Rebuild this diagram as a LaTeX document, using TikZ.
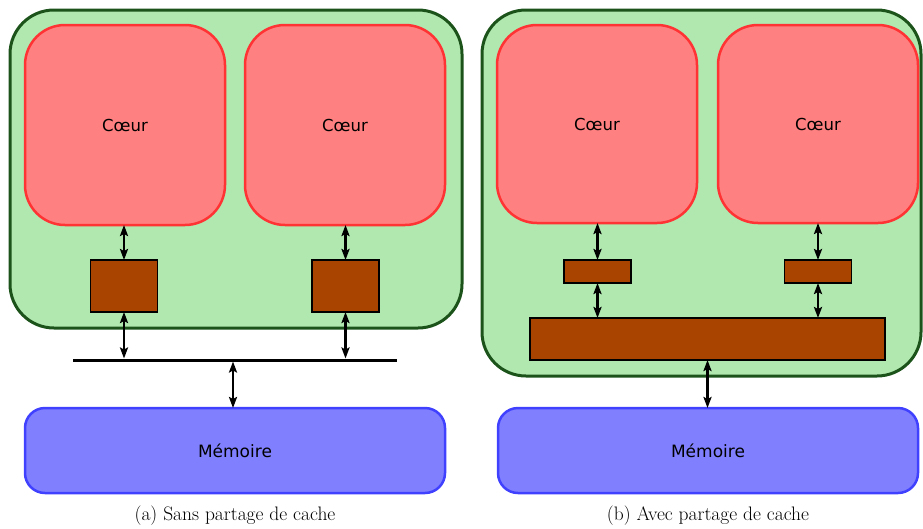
\documentclass[tikz,border=0pt]{standalone}
\usepackage{fontspec}
\newfontfamily\labelfont{DejaVu Sans}
\usetikzlibrary{arrows.meta}
\definecolor{chipfill}{HTML}{B0E8B0}
\definecolor{chipdraw}{HTML}{1B531B}
\definecolor{corefill}{HTML}{FF8080}
\definecolor{coredraw}{HTML}{FF3333}
\definecolor{memfill}{HTML}{8080FF}
\definecolor{memdraw}{HTML}{4040FF}
\definecolor{cachefill}{HTML}{A84400}
\tikzset{
  box/.style={rectangle, inner sep=0pt, outer sep=0pt},
  chip/.style={box, fill=chipfill, draw=chipdraw, line width=3pt, rounded corners=44pt},
  core/.style={box, fill=corefill, draw=coredraw, line width=2.5pt, rounded corners=40pt,
    font=\labelfont\fontsize{16.5}{19}\selectfont},
  mem/.style={box, fill=memfill, draw=memdraw, line width=2.5pt, rounded corners=20pt,
    font=\labelfont\fontsize{17}{20}\selectfont},
  cache/.style={box, fill=cachefill, draw=black, line width=1.5pt},
  link/.style={line width=2.4pt, {Stealth[length=11pt,width=8pt,inset=2pt]}-{Stealth[length=11pt,width=8pt,inset=2pt]}},
  caption/.style={inner sep=0pt, font=\fontsize{19.5}{23}\selectfont}
}
\begin{document}
\begin{tikzpicture}[x=1pt,y=-1pt]
\useasboundingbox (0,0) rectangle (923,528);

% ---------- (a) private caches ----------
\node[chip, minimum width=452pt, minimum height=318pt] (chipA) at (236,169) {};
\node[core, minimum width=200pt, minimum height=200pt] (coreA1) at (125,125) {Cœur};
\node[core, minimum width=200pt, minimum height=200pt] (coreA2) at (345,125) {Cœur};
\node[cache, minimum width=67pt, minimum height=52pt] (cacheA1) at (124,286) {};
\node[cache, minimum width=67pt, minimum height=52pt] (cacheA2) at (345.5,286) {};
\node[box, fill=black, minimum width=324pt, minimum height=3pt] (bus) at (235,360) {};
\node[mem, minimum width=420pt, minimum height=85pt] (memA) at (235,450.5) {Mémoire};

\draw[link] (coreA1.south -| cacheA1) -- (cacheA1.north);
\draw[link] (coreA2.south -| cacheA2) -- (cacheA2.north);
\draw[link] (cacheA1.south) -- (cacheA1.south |- bus.north);
\draw[link] (cacheA2.south) -- (cacheA2.south |- bus.north);
\draw[link] ([xshift=-2pt]bus.south) -- ([xshift=-2pt]bus.south |- memA.north);

\node[caption] (capA) at (235,516) {(a) Sans partage de cache};

% ---------- (b) shared cache ----------
\node[chip, minimum width=439pt, minimum height=366pt] (chipB) at (701.5,193) {};
\node[core, minimum width=200pt, minimum height=198pt] (coreB1) at (597,124) {Cœur};
\node[core, minimum width=200pt, minimum height=198pt] (coreB2) at (818,124) {Cœur};
\node[cache, minimum width=67pt, minimum height=23pt] (cacheB1) at (597.5,271.5) {};
\node[cache, minimum width=67pt, minimum height=23pt] (cacheB2) at (818,271.5) {};
\node[cache, minimum width=355pt, minimum height=42pt] (shared) at (707.5,339) {};
\node[mem, minimum width=420pt, minimum height=85pt] (memB) at (708,450.5) {Mémoire};

\draw[link] (coreB1.south -| cacheB1) -- (cacheB1.north);
\draw[link] (coreB2.south -| cacheB2) -- (cacheB2.north);
\draw[link] (cacheB1.south) -- (cacheB1.south |- shared.north);
\draw[link] (cacheB2.south) -- (cacheB2.south |- shared.north);
\draw[link] (shared.south) -- (shared.south |- memB.north);

\node[caption] (capB) at (708,516) {(b) Avec partage de cache};
\end{tikzpicture}
\end{document}
